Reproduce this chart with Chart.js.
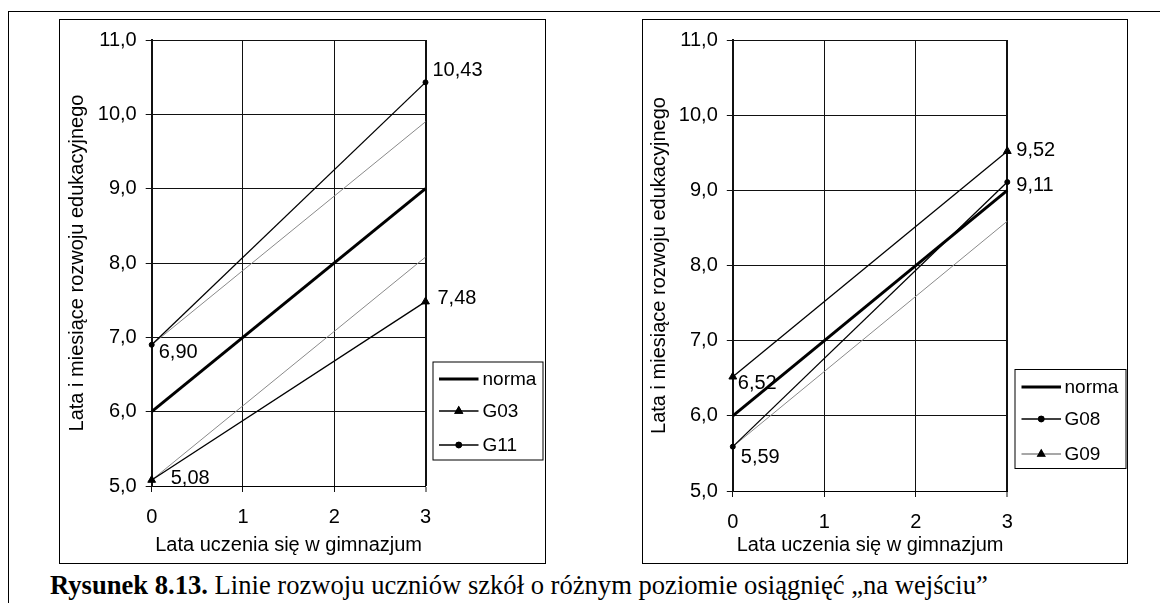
<!DOCTYPE html>
<html>
<head>
<meta charset="utf-8">
<script src="https://cdn.jsdelivr.net/npm/chart.js@4.4.1/dist/chart.umd.min.js"></script>
<style>
html, body { margin: 0; padding: 0; background: #fff; }
body { width: 1160px; height: 603px; position: relative; overflow: hidden; font-family: "Liberation Sans", Arial, sans-serif; }
#frame { position: absolute; left: 8px; top: 11px; width: 1200px; height: 700px; border-left: 1px solid #000; border-top: 1px solid #000; }
canvas { position: absolute; display: block; }
.box { position: absolute; border: 1px solid #000; box-sizing: border-box; pointer-events: none; }
#caption { position: absolute; left: 50px; top: 572px; font-family: "Liberation Serif", "Times New Roman", serif; font-size: 26.6px; line-height: 26px; white-space: nowrap; color: #000; }
</style>
</head>
<body>
<div id="frame"></div>
<canvas id="chartA" width="487" height="545" style="left:59px;top:19px;"></canvas>
<div class="box" style="left:59px;top:19px;width:487px;height:545px;"></div>
<canvas id="chartB" width="486" height="545" style="left:642px;top:19px;"></canvas>
<div class="box" style="left:642px;top:19px;width:486px;height:545px;"></div>
<div id="caption"><b>Rysunek 8.13.</b> Linie rozwoju uczniów szkół o różnym poziomie osiągnięć „na wejściu”</div>

<script>
// Years of lower-secondary schooling (start and end of each line)
const years = [0, 3];

// Left panel
const normaA = [6.00, 9.00];
const g03 = [5.08, 7.48];
const g11 = [6.90, 10.43];
const g03Norm = [5.08, 8.08];   // norm-rate growth from the G03 starting level
const g11Norm = [6.90, 9.90];   // norm-rate growth from the G11 starting level

// Right panel
const normaB = [6.00, 9.00];
const g08 = [5.59, 9.11];
const g09 = [6.52, 9.52];
const g08Norm = [5.59, 8.59];   // norm-rate growth from the G08 starting level

// Tick labels
const xTickLabels = ['0', '1', '2', '3'];
const yTickLabels = ['5,0', '6,0', '7,0', '8,0', '9,0', '10,0', '11,0'];

const xTitle = 'Lata uczenia się w gimnazjum';
const yTitle = 'Lata i miesiące rozwoju edukacyjnego';

const FONT = '"Liberation Sans", Arial, sans-serif';
const GREY = '#8a8a8a';

function pts(values) {
  return values.map((v, i) => ({ x: years[i], y: v }));
}
function fmt(v) {
  return v.toFixed(2).replace('.', ',');
}

function normaSet(values) {
  return { label: 'norma', data: pts(values), borderColor: '#000', borderWidth: 3,
           pointRadius: 0, order: 0, inLegend: true, clip: false };
}
function seriesSet(label, values, style, radius, legendColor) {
  return { label, data: pts(values), borderColor: '#000', borderWidth: 1.3,
           pointStyle: style, pointRadius: radius, pointBackgroundColor: '#000',
           pointBorderColor: '#000', pointBorderWidth: 1, order: 1, inLegend: true,
           legendColor: legendColor || '#000', clip: false };
}
function normRateSet(values) {
  return { label: '', data: pts(values), borderColor: GREY, borderWidth: 1,
           pointRadius: 0, order: 2, inLegend: false, clip: false };
}

// Legend drawn inside a framed box at a fixed spot in the panel
const boxLegend = {
  id: 'boxLegend',
  afterDraw(chart, args, o) {
    const ctx = chart.ctx;
    ctx.save();
    ctx.strokeStyle = '#000';
    ctx.lineWidth = 1;
    ctx.strokeRect(o.x + 0.5, o.y + 0.5, o.w, o.h);
    ctx.font = o.fontSize + 'px ' + FONT;
    ctx.textBaseline = 'middle';
    ctx.textAlign = 'left';
    ctx.fillStyle = '#000';
    const items = chart.data.datasets.filter(d => d.inLegend);
    const order = o.labels.map(l => items.find(d => d.label === l));
    order.forEach((d, i) => {
      const y = o.y + o.rows[i];
      const x0 = o.x + o.lineStart, x1 = o.x + o.lineEnd;
      ctx.beginPath();
      ctx.strokeStyle = d.legendColor || d.borderColor;
      ctx.lineWidth = d.borderWidth;
      ctx.moveTo(x0, y);
      ctx.lineTo(x1, y);
      ctx.stroke();
      if (d.pointRadius) {
        Chart.helpers.drawPoint(ctx, {
          pointStyle: d.pointStyle, radius: o.markerRadius[d.pointStyle] || d.pointRadius,
          rotation: 0, borderWidth: 1
        }, (x0 + x1) / 2, y);
        ctx.fillStyle = '#000';
        ctx.strokeStyle = '#000';
        ctx.fill();
        ctx.stroke();
      }
      ctx.fillStyle = '#000';
      ctx.fillText(d.label, o.x + o.textX, y + 1);
    });
    ctx.restore();
  }
};

// Value labels next to the line ends
const endLabels = {
  id: 'endLabels',
  afterDatasetsDraw(chart, args, o) {
    const ctx = chart.ctx;
    ctx.save();
    ctx.font = o.fontSize + 'px ' + FONT;
    ctx.fillStyle = '#000';
    ctx.textAlign = 'left';
    ctx.textBaseline = 'alphabetic';
    o.items.forEach(it => {
      const dsIndex = chart.data.datasets.findIndex(d => d.label === it.label);
      const ds = chart.data.datasets[dsIndex];
      const el = chart.getDatasetMeta(dsIndex).data[it.index];
      const v = ds.data[it.index].y;
      ctx.fillText(fmt(v), el.x + it.dx, el.y + it.dy + 7);
    });
    ctx.restore();
  }
};

function makeChart(id, datasets, geo, legendOpts, labelItems) {
  const canvas = document.getElementById(id);
  const W = canvas.width, H = canvas.height;
  return new Chart(canvas, {
    type: 'line',
    data: { datasets },
    options: {
      responsive: false,
      animation: false,
      devicePixelRatio: 1,
      layout: { padding: { left: geo.padLeft, top: geo.top, right: W - geo.right, bottom: geo.padBottom } },
      plugins: {
        legend: { display: false },
        tooltip: { enabled: false },
        boxLegend: legendOpts,
        endLabels: { fontSize: 20, items: labelItems }
      },
      elements: { line: { tension: 0 } },
      scales: {
        x: {
          type: 'linear', min: 0, max: 3,
          afterFit(s) { s.height = H - geo.padBottom - geo.bottom; },
          ticks: { stepSize: 1, padding: 13, color: '#000', font: { family: FONT, size: 20 },
                   callback: v => xTickLabels[v], maxRotation: 0 },
          grid: { color: '#111', lineWidth: c => (c.tick && c.tick.value === 3 ? 2 : 1), tickLength: 6,
                  tickColor: '#111', tickWidth: 1 },
          border: { display: true, color: '#000', width: 1 },
          title: { display: true, text: xTitle, color: '#000', padding: 0, font: { family: FONT, size: 20 } }
        },
        y: {
          type: 'linear', min: 5, max: 11,
          afterFit(s) { s.width = geo.left - geo.padLeft; },
          ticks: { stepSize: 1, padding: 9, color: '#000', font: { family: FONT, size: 20 },
                   callback: v => yTickLabels[v - 5] },
          grid: { color: '#111', lineWidth: 1, tickLength: 6, tickColor: '#111' },
          border: { display: true, color: '#111', width: 2 },
          title: { display: true, text: yTitle, color: '#000', padding: 0, font: { family: FONT, size: 20 } }
        }
      }
    },
    plugins: [boxLegend, endLabels]
  });
}

makeChart('chartA', [
  normaSet(normaA),
  seriesSet('G03', g03, 'triangle', 4.5),
  seriesSet('G11', g11, 'circle', 2.5),
  normRateSet(g03Norm),
  normRateSet(g11Norm)
], { left: 92.7, right: 366.5, top: 17, bottom: 467, padLeft: 6.7, padBottom: 7 },
{ x: 373.5, y: 342.5, w: 110, h: 98, rows: [17.5, 49.5, 83.5], lineStart: 6.5, lineEnd: 46,
  textX: 50, fontSize: 19, labels: ['norma', 'G03', 'G11'], markerRadius: { triangle: 4, circle: 2.5 } },
[
  { label: 'G11', index: 1, dx: 7, dy: -13 },
  { label: 'G03', index: 1, dx: 12, dy: -5 },
  { label: 'G11', index: 0, dx: 7, dy: 6 },
  { label: 'G03', index: 0, dx: 19, dy: -3 }
]);

makeChart('chartB', [
  normaSet(normaB),
  seriesSet('G08', g08, 'circle', 2.5),
  seriesSet('G09', g09, 'triangle', 4.5, GREY),
  normRateSet(g08Norm)
], { left: 90.8, right: 365.3, top: 17, bottom: 472, padLeft: 5.5, padBottom: 7 },
{ x: 372.5, y: 350, w: 111, h: 99, rows: [18, 50, 85], lineStart: 7, lineEnd: 46.5,
  textX: 50, fontSize: 19, labels: ['norma', 'G08', 'G09'], markerRadius: { triangle: 4, circle: 2.5 } },
[
  { label: 'G09', index: 1, dx: 9, dy: -2 },
  { label: 'G08', index: 1, dx: 9, dy: 2 },
  { label: 'G09', index: 0, dx: 5, dy: 5 },
  { label: 'G08', index: 0, dx: 8, dy: 9 }
]);
</script>
</body>
</html>
